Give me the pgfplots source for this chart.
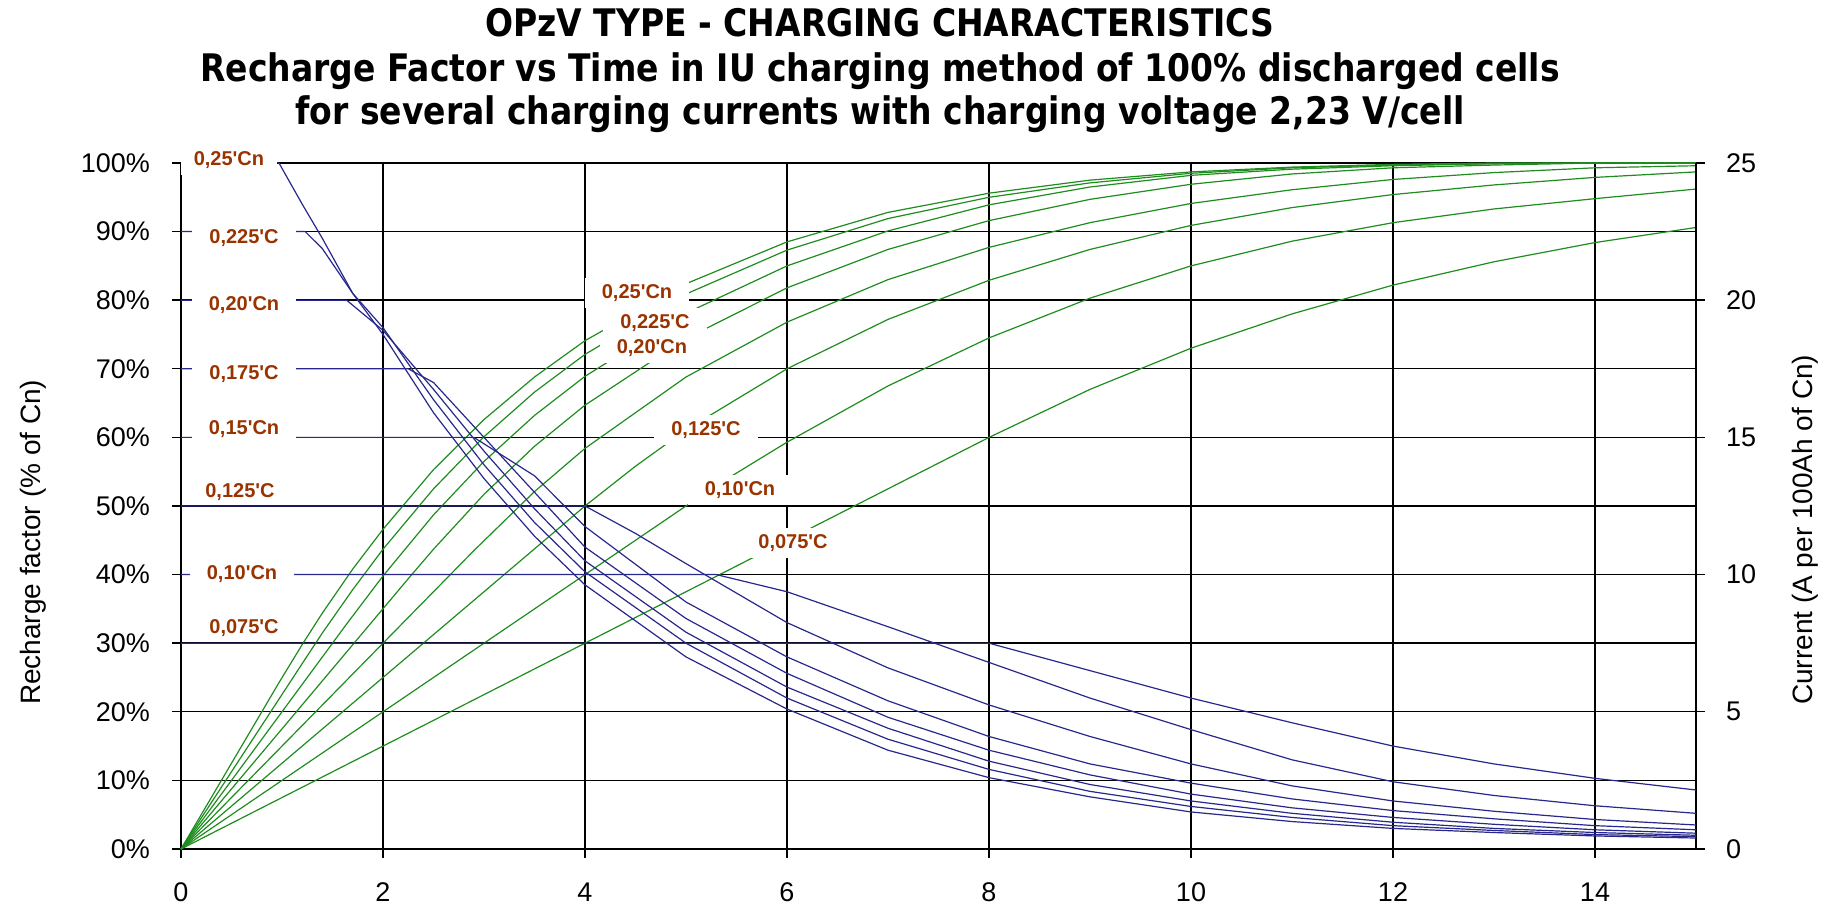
\documentclass[border=0pt]{standalone}
\usepackage{fontspec}
\setmainfont{Liberation Sans}
\newfontfamily\titlefont{DejaVu Sans}
\usepackage{pgfplots}
\pgfplotsset{compat=1.18}
\definecolor{gr}{RGB}{30,140,30}
\definecolor{bl}{RGB}{40,40,140}
\definecolor{br}{RGB}{153,51,0}
\tikzset{
  lab/.style={fill=white, text=br, font=\bfseries\fontsize{10}{12}\selectfont,
    minimum width=52pt, minimum height=15pt, inner sep=0pt},
  labn/.style={text=br, font=\bfseries\fontsize{10}{12}\selectfont, inner sep=0pt},
  ttl/.style={anchor=base, yscale=1.15, font=\titlefont\bfseries\fontsize{16.5}{19}\selectfont}
}
\begin{document}
\begin{tikzpicture}
\path[use as bounding box] (0,0) rectangle (919pt,455pt);
\begin{axis}[
  at={(90.5pt,30.5pt)}, anchor=south west,
  width=757.5pt, height=343pt, scale only axis,
  xmin=0, xmax=15, ymin=0, ymax=100,
  xtick={0,2,4,6,8,10,12,14}, xticklabels={0,2,4,6,8,10,12,14},
  ytick={0,10,20,30,40,50,60,70,80,90,100},
  yticklabels={0\%,10\%,20\%,30\%,40\%,50\%,60\%,70\%,80\%,90\%,100\%},
  grid=major, major grid style={black, line width=0.7pt},
  axis line style={black, line width=0.7pt},
  tick style={black, line width=0.7pt},
  tick align=outside, major tick length=4.5pt,
  tick pos=left,
  ticklabel style={font=\fontsize{13.5}{16}\selectfont},
  yticklabel shift=7.5pt, xticklabel shift=9pt,
  clip=false,
]
\addplot[gr, line width=0.6pt] coordinates {(0,0) (0.97,24.25) (1.2,29.8) (1.4,34.4) (1.7,40.8) (2,46.6) (2.5,55.3) (3,62.6) (3.5,68.8) (4,74.1) (5,82.4) (6,88.5) (7,92.8) (8,95.6) (9,97.5) (10,98.7) (11,99.4) (12,99.8) (13,100) (14,100) (15,100)};
\addplot[gr, line width=0.6pt] coordinates {(0,0) (1.23,27.7) (1.4,31.5) (1.7,37.8) (2,43.7) (2.5,52.5) (3,60.1) (3.5,66.6) (4,72.1) (5,80.9) (6,87.3) (7,91.9) (8,95) (9,97.1) (10,98.5) (11,99.3) (12,99.7) (13,99.9) (14,100) (15,100)};
\addplot[gr, line width=0.6pt] coordinates {(0,0) (1.64,32.8) (2,39.8) (2.5,48.7) (3,56.5) (3.5,63.2) (4,68.9) (5,78.1) (6,85) (7,90.1) (8,93.9) (9,96.5) (10,98.2) (11,99.1) (12,99.6) (13,99.9) (14,100) (15,100)};
\addplot[gr, line width=0.6pt] coordinates {(0,0) (2.25,39.4) (2.5,43.7) (3,51.7) (3.5,58.7) (4,64.7) (5,74.4) (6,81.8) (7,87.4) (8,91.6) (9,94.7) (10,96.9) (11,98.4) (12,99.3) (13,99.7) (14,100) (15,100)};
\addplot[gr, line width=0.6pt] coordinates {(0,0) (2.9,43.5) (3.5,52.1) (4,58.4) (5,68.8) (6,76.8) (7,83) (8,87.7) (9,91.3) (10,94.1) (11,96.1) (12,97.6) (13,98.6) (14,99.3) (15,99.6)};
\addplot[gr, line width=0.6pt] coordinates {(0,0) (4,50) (4.5,55.8) (5,61.1) (6,70) (7,77.2) (8,82.9) (9,87.4) (10,90.9) (11,93.5) (12,95.4) (13,96.8) (14,97.9) (15,98.7)};
\addplot[gr, line width=0.6pt] coordinates {(0,0) (5.3,53) (6,59.3) (7,67.5) (8,74.5) (9,80.3) (10,85) (11,88.6) (12,91.3) (13,93.3) (14,94.8) (15,96.2)};
\addplot[gr, line width=0.6pt] coordinates {(0,0) (8,60) (9,67) (10,73) (11,78) (12,82.2) (13,85.6) (14,88.4) (15,90.6)};
\end{axis}
\begin{axis}[
  at={(90.5pt,30.5pt)}, anchor=south west,
  width=757.5pt, height=343pt, scale only axis,
  xmin=0, xmax=15, ymin=0, ymax=25,
  axis x line=none, axis y line*=right,
  ytick={0,5,10,15,20,25}, yticklabels={0,5,10,15,20,25},
  axis line style={black, line width=0.7pt},
  tick style={black, line width=0.7pt},
  tick align=outside, major tick length=4.5pt,
  ticklabel style={font=\fontsize{13.5}{16}\selectfont},
  yticklabel shift=7pt,
  clip=false,
]
\addplot[bl, line width=0.6pt] coordinates {(0,25) (0.97,25) (1.2,23.5) (1.4,22.25) (1.7,20.25) (2,18.75) (2.5,15.9) (3,13.5) (3.5,11.4) (4,9.625) (5,7.0) (6,5.1) (7,3.6) (8,2.6) (9,1.9) (10,1.35) (11,1.0) (12,0.75) (13,0.6) (14,0.475) (15,0.4)};
\addplot[bl, line width=0.6pt] coordinates {(0,22.5) (1.23,22.5) (1.4,21.875) (1.7,20.25) (2,19.0) (2.5,16.375) (3,14.0) (3.5,11.9) (4,10.1) (5,7.5) (6,5.5) (7,4.0) (8,2.9) (9,2.1) (10,1.55) (11,1.15) (12,0.85) (13,0.675) (14,0.525) (15,0.45)};
\addplot[bl, line width=0.6pt] coordinates {(0,20) (1.64,20) (2,18.9) (2.5,16.75) (3,14.5) (3.5,12.4) (4,10.5) (5,7.9) (6,5.9) (7,4.4) (8,3.2) (9,2.35) (10,1.75) (11,1.3) (12,0.975) (13,0.75) (14,0.6) (15,0.5)};
\addplot[bl, line width=0.6pt] coordinates {(0,17.5) (2.25,17.5) (2.5,17) (3,15) (3.5,13) (4,11) (5,8.4) (6,6.4) (7,4.8) (8,3.6) (9,2.7) (10,2.0) (11,1.5) (12,1.15) (13,0.9) (14,0.7) (15,0.575)};
\addplot[bl, line width=0.6pt] coordinates {(0,15) (2.9,15) (3.5,13.6) (4,11.75) (5,9) (6,7) (7,5.4) (8,4.1) (9,3.1) (10,2.4) (11,1.825) (12,1.4) (13,1.1) (14,0.85) (15,0.7)};
\addplot[bl, line width=0.6pt] coordinates {(0,12.5) (4,12.5) (4.5,11.5) (5,10.4) (6,8.25) (7,6.6) (8,5.25) (9,4.1) (10,3.1) (11,2.3) (12,1.75) (13,1.375) (14,1.075) (15,0.875)};
\addplot[bl, line width=0.6pt] coordinates {(0,10) (5.3,10) (6,9.375) (7,8.1) (8,6.8) (9,5.5) (10,4.35) (11,3.25) (12,2.45) (13,1.95) (14,1.575) (15,1.3)};
\addplot[bl, line width=0.6pt] coordinates {(0,7.5) (8,7.5) (9,6.5) (10,5.5) (11,4.6) (12,3.75) (13,3.1) (14,2.575) (15,2.15)};
% left labels
\node[lab, minimum width=48pt] at (axis cs:0.475,25.1) {0,25\textquotesingle Cn};
\node[lab] at (axis cs:0.624,22.27) {0,225\textquotesingle C};
\node[lab] at (axis cs:0.624,19.83) {0,20\textquotesingle Cn};
\node[lab] at (axis cs:0.624,17.31) {0,175\textquotesingle C};
\node[lab] at (axis cs:0.624,15.31) {0,15\textquotesingle Cn};
\node[labn] at (axis cs:0.584,13.0) {0,125\textquotesingle C};
\node[lab] at (axis cs:0.604,10.02) {0,10\textquotesingle Cn};
\node[labn] at (axis cs:0.624,8.05) {0,075\textquotesingle C};
% middle labels
\node[lab] at (axis cs:4.515,20.26) {0,25\textquotesingle Cn};
\node[lab] at (axis cs:4.693,19.17) {0,225\textquotesingle C};
\node[lab] at (axis cs:4.663,18.26) {0,20\textquotesingle Cn};
\node[lab] at (axis cs:5.198,15.27) {0,125\textquotesingle C};
\node[lab] at (axis cs:5.535,13.08) {0,10\textquotesingle Cn};
\node[lab] at (axis cs:6.06,11.15) {0,075\textquotesingle C};
\end{axis}
\node[ttl] at (440pt,436.5pt) {OPzV TYPE - CHARGING CHARACTERISTICS};
\node[ttl] at (440pt,414pt) {Recharge Factor vs Time in IU charging method of 100\% discharged cells};
\node[ttl] at (440pt,392.5pt) {for several charging currents with charging voltage 2,23 V/cell};
\node[rotate=90, anchor=west, font=\fontsize{14}{17}\selectfont] at (16.5pt,99pt) {Recharge factor (\% of Cn)};
\node[rotate=90, anchor=west, font=\fontsize{14}{17}\selectfont] at (902.5pt,99pt) {Current (A per 100Ah of Cn)};
\end{tikzpicture}
\end{document}
